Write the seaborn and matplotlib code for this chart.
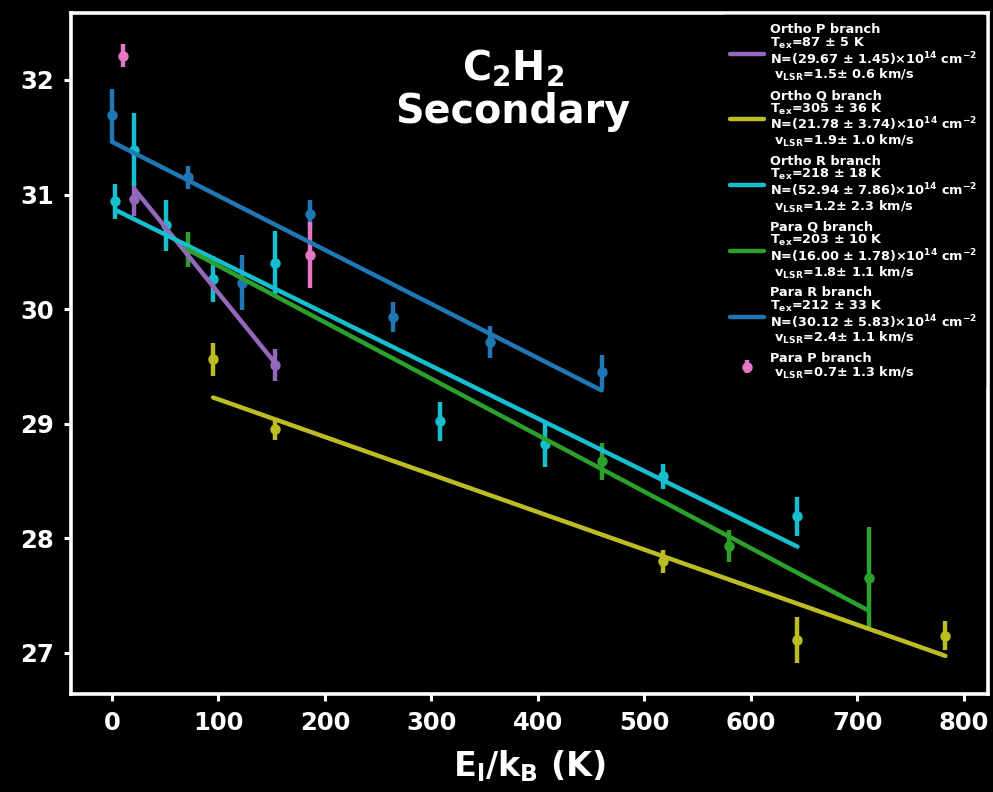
import numpy as np
import pandas as pd
import matplotlib
matplotlib.use("Agg")
import matplotlib.pyplot as plt
import seaborn as sns

# Rotational diagram of C2H2 (secondary component): ln(N_u/g_u) vs lower-level energy
branches = ["Ortho P", "Ortho Q", "Ortho R", "Para Q", "Para R", "Para P"]
colors = ["#9467bd", "#bcbd22", "#17becf", "#2ca02c", "#1f77b4", "#e377c2"]

ortho_p_x = [21, 153]
ortho_p_y = [30.96, 29.51]
ortho_p_err = [0.15, 0.14]

ortho_q_x = [95, 153, 518, 644, 783]
ortho_q_y = [29.56, 28.95, 27.80, 27.11, 27.15]
ortho_q_err = [0.14, 0.09, 0.10, 0.20, 0.13]

ortho_r_x = [3, 21, 51, 95, 153, 308, 407, 518, 644]
ortho_r_y = [30.94, 31.39, 30.73, 30.26, 30.40, 29.02, 28.82, 28.54, 28.19]
ortho_r_err = [0.15, 0.32, 0.22, 0.20, 0.28, 0.17, 0.20, 0.11, 0.17]

para_q_x = [71, 460, 580, 711]
para_q_y = [30.52, 28.67, 27.93, 27.65]
para_q_err = [0.15, 0.16, 0.14, 0.45]

para_r_x = [0, 71, 122, 186, 264, 355, 460]
para_r_y = [31.69, 31.15, 30.23, 30.83, 29.93, 29.71, 29.45]
para_r_err = [0.23, 0.10, 0.24, 0.12, 0.13, 0.14, 0.15]

para_p_x = [10, 186]
para_p_y = [32.21, 30.47]
para_p_err = [0.10, 0.29]

# Fit results: excitation temperature (slope = -1/Tex) and intercept
fit_tex = [87, 305, 218, 203, 212]
fit_intercept = [31.29, 29.54, 30.88, 30.87, 31.46]

labels = [
    "Ortho P branch\nT$_{\\rm ex}$=87 ± 5 K\nN=(29.67 ± 1.45)×10$^{\\mathbf{14}}$ cm$^{\\mathbf{-2}}$\n v$_{\\rm LSR}$=1.5± 0.6 km/s",
    "Ortho Q branch\nT$_{\\rm ex}$=305 ± 36 K\nN=(21.78 ± 3.74)×10$^{\\mathbf{14}}$ cm$^{\\mathbf{-2}}$\n v$_{\\rm LSR}$=1.9± 1.0 km/s",
    "Ortho R branch\nT$_{\\rm ex}$=218 ± 18 K\nN=(52.94 ± 7.86)×10$^{\\mathbf{14}}$ cm$^{\\mathbf{-2}}$\n v$_{\\rm LSR}$=1.2± 2.3 km/s",
    "Para Q branch\nT$_{\\rm ex}$=203 ± 10 K\nN=(16.00 ± 1.78)×10$^{\\mathbf{14}}$ cm$^{\\mathbf{-2}}$\n v$_{\\rm LSR}$=1.8± 1.1 km/s",
    "Para R branch\nT$_{\\rm ex}$=212 ± 33 K\nN=(30.12 ± 5.83)×10$^{\\mathbf{14}}$ cm$^{\\mathbf{-2}}$\n v$_{\\rm LSR}$=2.4± 1.1 km/s",
    "Para P branch\n v$_{\\rm LSR}$=0.7± 1.3 km/s",
]

data_x = [ortho_p_x, ortho_q_x, ortho_r_x, para_q_x, para_r_x, para_p_x]
data_y = [ortho_p_y, ortho_q_y, ortho_r_y, para_q_y, para_r_y, para_p_y]
data_e = [ortho_p_err, ortho_q_err, ortho_r_err, para_q_err, para_r_err, para_p_err]

sns.set_theme(style="dark")
plt.rcParams["font.family"] = ["DejaVu Sans"]
plt.rcParams["font.weight"] = "bold"
plt.rcParams["mathtext.fontset"] = "dejavusans"
plt.rcParams["text.color"] = "white"

fig = plt.figure(figsize=(9.93, 7.92), dpi=100, facecolor="black")
ax = fig.add_axes([0.0715, 0.1237, 0.9235, 0.86])
ax.set_facecolor("black")

# Points with error bars
for i, name in enumerate(branches):
    eb = ax.errorbar(data_x[i], data_y[i], yerr=data_e[i], fmt="o", color=colors[i],
                     markersize=6.5, elinewidth=3.2, capsize=0, zorder=3)
    if name == "Para P":
        para_p_handle = eb

# Linear fits ln(N/g) = b - E/Tex over each branch's energy range
for i in range(5):
    xs = np.array([min(data_x[i]), max(data_x[i])], dtype=float)
    ys = fit_intercept[i] - xs / fit_tex[i]
    df = pd.DataFrame({"E": xs, "lnN": ys})
    sns.lineplot(data=df, x="E", y="lnN", ax=ax, color=colors[i], linewidth=3.2,
                 zorder=4, label=labels[i])

handles, _ = ax.get_legend_handles_labels()
handles = handles[:5] + [para_p_handle]

leg = ax.legend(handles, labels, loc="upper right", frameon=True,
                facecolor="black", edgecolor="black", framealpha=1,
                handlelength=2.6, labelspacing=0.45, borderaxespad=0.2,
                handletextpad=0.5, borderpad=0.6,
                prop={"weight": "bold", "size": 9.3})
for t in leg.get_texts():
    t.set_color("white")
    t.set_linespacing(0.95)

ax.text(0.482, 0.887, "C$_{\\rm 2}$H$_{\\rm 2}$\nSecondary", transform=ax.transAxes,
        ha="center", va="center", fontsize=28.5, fontweight="bold", color="white",
        linespacing=1.1)

ax.set_xlim(-38.5, 823)
ax.set_ylim(26.64, 32.585)
ax.set_xticks(np.arange(0, 801, 100))
ax.set_yticks(np.arange(27, 33, 1))
ax.set_xlabel("E$_{\\rm l}$/k$_{\\rm B}$ (K)", fontsize=24, fontweight="bold", color="white",
              labelpad=10)
ax.set_ylabel("")
ax.tick_params(colors="white", labelsize=17.5, length=5, width=2.2, pad=7,
               bottom=True, left=True)
for lab in ax.get_xticklabels() + ax.get_yticklabels():
    lab.set_fontweight("bold")
    lab.set_color("white")
for sp in ax.spines.values():
    sp.set_color("white")
    sp.set_linewidth(2.6)
ax.grid(False)

fig.savefig("out.png", dpi=100, facecolor="black")
